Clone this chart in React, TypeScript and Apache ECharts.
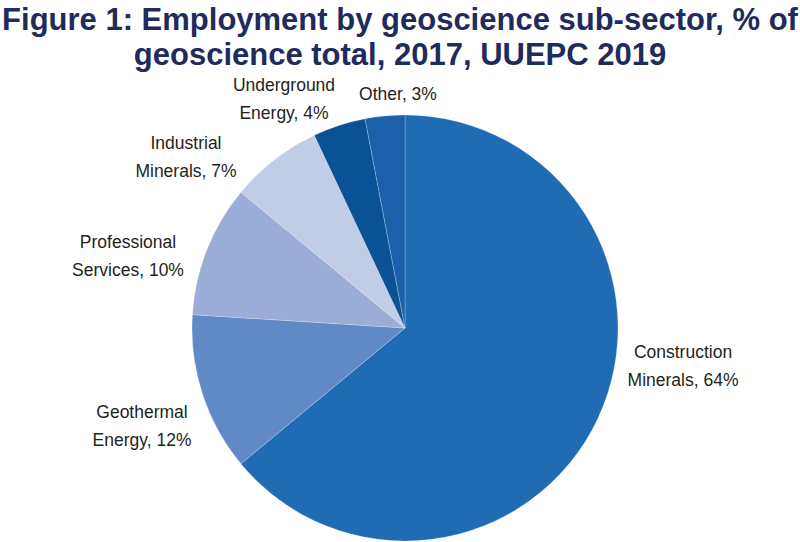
import React, { useEffect, useRef } from "react";
import * as echarts from "echarts";

const titleLines = [
  "Figure 1: Employment by geoscience sub-sector, % of",
  "geoscience total, 2017, UUEPC 2019",
];
const categories = [
  "Construction Minerals",
  "Geothermal Energy",
  "Professional Services",
  "Industrial Minerals",
  "Underground Energy",
  "Other",
];
const shares = [64, 12, 10, 7, 4, 3];
const colors = ["#1f6cb4", "#6189c6", "#9aadd6", "#c1cce6", "#0b5294", "#1c60ac"];
// label anchor positions (layout only)
const labelPos: [number, number][] = [
  [683, 366],
  [142, 426],
  [128, 256],
  [186, 157],
  [284, 99],
  [398, 94],
];

export default function App() {
  const ref = useRef<HTMLDivElement>(null);
  useEffect(() => {
    if (!ref.current) return;
    const chart = echarts.init(ref.current, undefined, { renderer: "svg" });
    chart.setOption({
      animation: false,
      backgroundColor: "#ffffff",
      title: {
        text: titleLines.join("\n"),
        left: "center",
        top: 2,
        padding: 0,
        textStyle: {
          fontFamily: "Liberation Sans, Arial, Helvetica, sans-serif",
          fontSize: 31,
          fontWeight: "bold",
          lineHeight: 35,
          color: "#1f2b5d",
        },
      },
      series: [
        {
          type: "pie",
          center: [405, 328],
          radius: 213,
          startAngle: 90,
          clockwise: true,
          avoidLabelOverlap: false,
          itemStyle: { borderColor: "rgba(255,255,255,0.45)", borderWidth: 0.5 },
          label: {
            show: true,
            position: "outside",
            color: "#231f20",
            fontFamily: "Liberation Sans, Arial, Helvetica, sans-serif",
            fontSize: 17.5,
            lineHeight: 28,
            align: "center",
            formatter: (p: any) => {
              const n: string = p.name;
              const i = n.indexOf(" ");
              const nm = i >= 0 ? n.slice(0, i) + "\n" + n.slice(i + 1) : n;
              return nm + ", " + p.value + "%";
            },
          },
          labelLine: { show: false },
          labelLayout: (params: any) => {
            const pos = labelPos[params.dataIndex];
            return { x: pos[0], y: pos[1], align: "center", verticalAlign: "middle" };
          },
          emphasis: { disabled: true },
          data: categories.map((c, i) => ({
            name: c,
            value: shares[i],
            itemStyle: { color: colors[i] },
          })),
        },
      ],
    });
    return () => chart.dispose();
  }, []);
  return (
    <div
      ref={ref}
      style={{ position: "fixed", left: 0, top: 0, width: 800, height: 542 }}
    />
  );
}
